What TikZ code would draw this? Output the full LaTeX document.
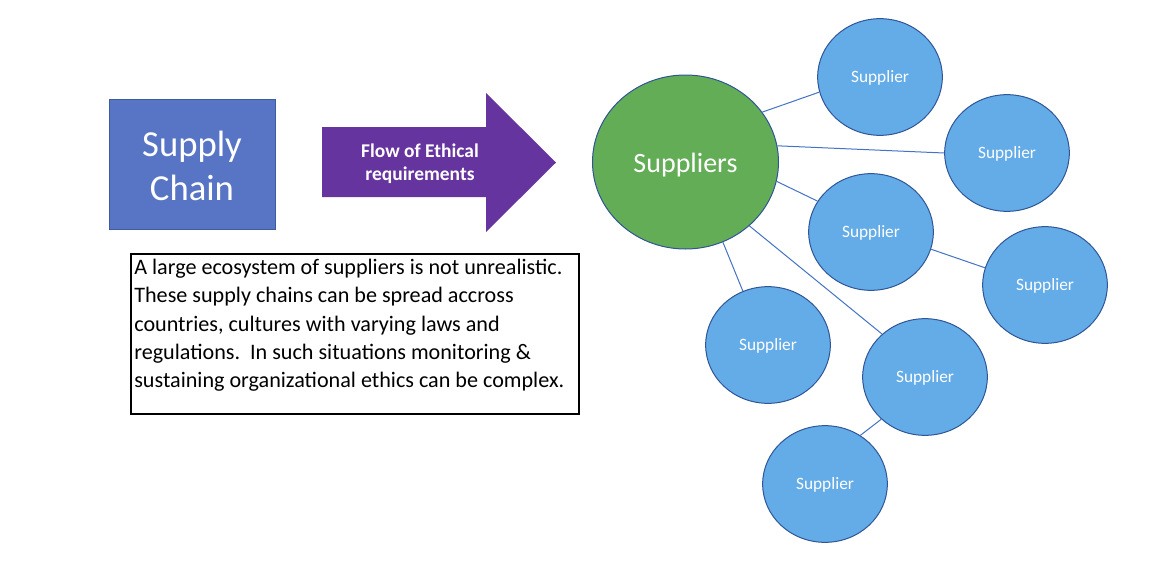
\documentclass[tikz,border=0pt]{standalone}
\usepackage{fontspec}
\setmainfont{Carlito}
\usetikzlibrary{shapes.geometric}
\definecolor{scfill}{HTML}{5874C5}
\definecolor{scdraw}{HTML}{3E5C9C}
\definecolor{arrowpurple}{HTML}{66349E}
\definecolor{suppgreen}{HTML}{63AD57}
\definecolor{suppblue}{HTML}{63ACE8}
\definecolor{ringblue}{HTML}{2F5597}
\definecolor{linkblue}{HTML}{4472C4}
\newcommand{\lowered}[2]{\raisebox{-#1}[\height][\depth]{#2}}
\begin{document}
\begin{tikzpicture}[x=0.75pt,y=-0.75pt,
  scbox/.style={rectangle, draw=scdraw, line width=0.75pt, fill=scfill, text=white,
    minimum width=124.5pt, minimum height=97.5pt, inner sep=0pt, align=center,
    font=\fontsize{27.5}{33}\selectfont},
  flowtext/.style={text=white, align=center, font=\bfseries\fontsize{14.6}{17.5}\selectfont},
  descbox/.style={rectangle, draw=black, line width=1.5pt, inner xsep=2.5pt, inner ysep=0pt,
    font=\fontsize{16.6}{21.2}\selectfont, anchor=north west},
  hub/.style={ellipse, draw=ringblue, line width=0.75pt, fill=suppgreen, text=white,
    minimum width=139.5pt, minimum height=130.5pt, inner sep=0pt,
    font=\fontsize{21}{25}\selectfont},
  supplier/.style={ellipse, draw=ringblue, line width=0.75pt, fill=suppblue, text=white,
    minimum width=93.5pt, minimum height=87.5pt, inner sep=0pt,
    font=\fontsize{13}{15}\selectfont},
  link/.style={draw=linkblue, line width=0.75pt}
]
\useasboundingbox (0,0) rectangle (1171,575);

% Supply chain box
\node[scbox] (sc) at (192,164) {\lowered{1.2pt}{Supply}\\\lowered{1.2pt}{Chain}};

% Flow arrow
\fill[arrowpurple] (322,127) -- (486,127) -- (486,93) -- (556,162.5) -- (486,232) -- (486,197) -- (322,197) -- cycle;
\node[flowtext] (flow) at (420,164) {Flow of Ethical\\requirements};

% Description box
\node[descbox] (desc) at (130,253) {\parbox[t][120pt][t]{331pt}{\vspace*{4pt}A large ecosystem of suppliers is not unrealistic.\\
These supply chains can be spread accross\\
countries, cultures with varying laws and\\
regulations.\ \ In such situations monitoring \&\\
sustaining organizational ethics can be complex.}};

% Hub and suppliers
\node[hub] (hub) at (685.5,162) {\lowered{2pt}{Suppliers}};
\node[supplier] (s1) at (880,77) {\lowered{1pt}{Supplier}};
\node[supplier] (s2) at (1007,153) {\lowered{1pt}{Supplier}};
\node[supplier] (s3) at (871,232) {\lowered{1pt}{Supplier}};
\node[supplier] (s4) at (1045,285) {\lowered{1pt}{Supplier}};
\node[supplier] (s5) at (768,345) {\lowered{1pt}{Supplier}};
\node[supplier] (s6) at (925,377) {\lowered{1pt}{Supplier}};
\node[supplier] (s7) at (825,484) {\lowered{1pt}{Supplier}};

% Connectors
\draw[link] (hub.33) -- (s1.194);
\draw[link] (hub.10) -- (s2.180);
\draw[link] (hub.-12) -- (s3.150);
\draw[link] (hub.-65) -- (s5.115);
\draw[link] (hub.-45) -- (s6.135);
\draw[link] (s3.-16) -- (s4.164);
\draw[link] (s6.224) -- (s7.54);
\end{tikzpicture}
\end{document}
